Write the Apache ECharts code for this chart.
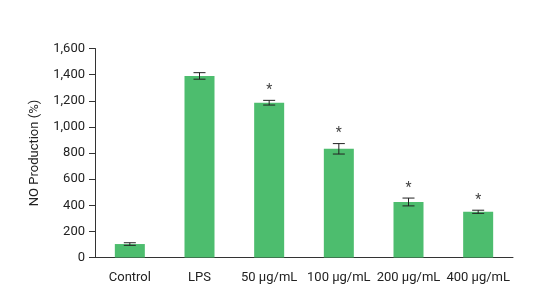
<!DOCTYPE html>
<html><head><meta charset="utf-8">
<script src="https://cdn.jsdelivr.net/npm/echarts@6/dist/echarts.min.js"></script>
<style>html,body{margin:0;padding:0;background:#fff}#c{width:544px;height:298px}</style>
</head><body><div id="c"></div>
<script>
const categories = ['Control', 'LPS', '50 μg/mL', '100 μg/mL', '200 μg/mL', '400 μg/mL'];
const values = [103, 1390, 1185, 832, 425, 350];
const errors = [10, 25, 18, 40, 30, 12];
const significant = [false, false, true, true, true, true];
const yTicks = [0, 200, 400, 600, 800, 1000, 1200, 1400, 1600];

const FONT = "'Roboto', 'Liberation Sans', sans-serif";
const chart = echarts.init(document.getElementById('c'));
chart.setOption({
  animation: false,
  grid: {left: 95, right: 31, top: 48.5, bottom: 40.5},
  xAxis: {
    type: 'category', data: categories,
    axisLine: {lineStyle: {color: '#333', width: 1}},
    axisTick: {show: false},
    axisLabel: {color: '#222', fontSize: 13, fontFamily: FONT, margin: 14, interval: 0}
  },
  yAxis: {
    type: 'value', min: yTicks[0], max: yTicks[yTicks.length - 1], interval: 200,
    name: 'NO Production (%)', nameLocation: 'middle', nameGap: 54,
    nameTextStyle: {color: '#222', fontSize: 13, fontFamily: FONT},
    axisLine: {show: true, lineStyle: {color: '#333', width: 1}},
    axisTick: {show: true, length: 6, lineStyle: {color: '#333'}},
    splitLine: {show: false},
    axisLabel: {color: '#222', fontSize: 13, fontFamily: FONT, margin: 10,
      formatter: v => v.toLocaleString('en-US')}
  },
  series: [{
    type: 'bar', data: values, barWidth: 30,
    itemStyle: {color: '#4dbd6e'}
  }, {
    type: 'custom',
    data: values.map((v, i) => [i, v, errors[i], significant[i] ? 1 : 0]),
    renderItem: (params, api) => {
      const x = api.value(0), v = api.value(1), e = api.value(2), s = api.value(3);
      const top = api.coord([x, v + e]);
      const bot = api.coord([x, v - e]);
      const hw = 6;
      const children = [
        {type: 'line', shape: {x1: top[0], y1: top[1], x2: top[0], y2: bot[1]}, style: {stroke: '#222', lineWidth: 1}},
        {type: 'line', shape: {x1: top[0] - hw, y1: top[1], x2: top[0] + hw, y2: top[1]}, style: {stroke: '#222', lineWidth: 1}},
        {type: 'line', shape: {x1: top[0] - hw, y1: bot[1], x2: top[0] + hw, y2: bot[1]}, style: {stroke: '#222', lineWidth: 1}}
      ];
      if (s) {
        children.push({type: 'text', style: {text: '*', x: top[0], y: top[1] - 3,
          textAlign: 'center', textVerticalAlign: 'bottom', fill: '#444', fontSize: 14, fontFamily: FONT}});
      }
      return {type: 'group', children};
    },
    z: 5
  }]
});
</script></body></html>
